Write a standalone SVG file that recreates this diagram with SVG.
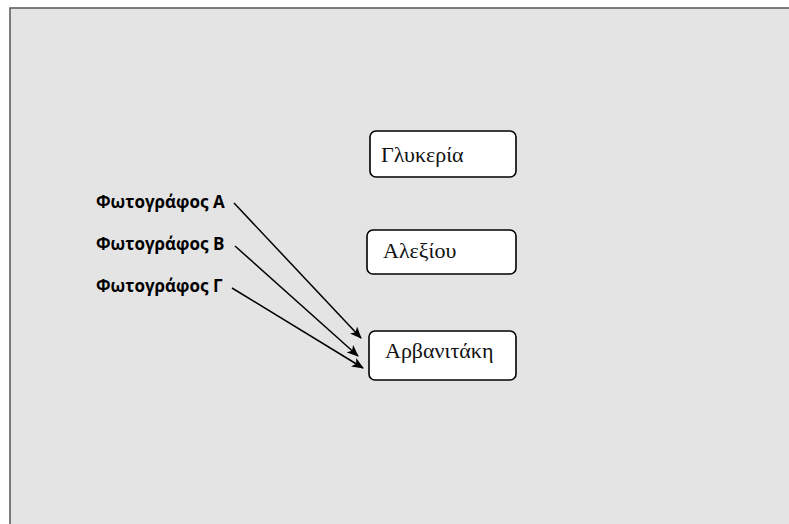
<svg xmlns="http://www.w3.org/2000/svg" width="789" height="524" viewBox="0 0 789 524">
<style>
.box{fill:#fff;stroke:#000;stroke-width:1.6}
.nt{font-family:"Liberation Serif",serif;font-size:22px;fill:#111}
.lb{font-family:"Open Sans","Liberation Sans",sans-serif;font-weight:bold;font-size:17px;fill:#000}
.ln{stroke:#000;stroke-width:1.5;fill:none;marker-end:url(#ah)}
</style>
<defs>
<marker id="ah" viewBox="0 0 12 10" refX="11" refY="5" markerWidth="12" markerHeight="10" markerUnits="userSpaceOnUse" orient="auto">
<path d="M0,0 L12,5 L0,10 L3,5 Z" fill="#000"/>
</marker>
</defs>
<rect x="0" y="0" width="789" height="524" fill="#fff"/>
<rect x="10" y="8" width="790" height="530" fill="#e4e4e4" stroke="#555" stroke-width="1.5"/>
<g id="n1"><rect class="box" x="370" y="131" width="146" height="46" rx="6"/><text class="nt" x="381" y="162">Γλυκερία</text></g>
<g id="n2"><rect class="box" x="367" y="230" width="149" height="44" rx="6"/><text class="nt" x="383" y="258">Αλεξίου</text></g>
<g id="n3"><rect class="box" x="369" y="331" width="147" height="49" rx="6"/><text class="nt" x="385" y="358">Αρβανιτάκη</text></g>
<g id="l1"><text class="lb" x="96" y="208">Φωτογράφος Α</text></g>
<g id="l2"><text class="lb" x="96" y="250">Φωτογράφος Β</text></g>
<g id="l3"><text class="lb" x="96" y="292">Φωτογράφος Γ</text></g>
<g id="connectors">
<line class="ln" x1="234" y1="203" x2="361" y2="338"/>
<line class="ln" x1="235" y1="246" x2="358" y2="356"/>
<line class="ln" x1="232" y1="288" x2="363" y2="368"/>
</g>
</svg>
